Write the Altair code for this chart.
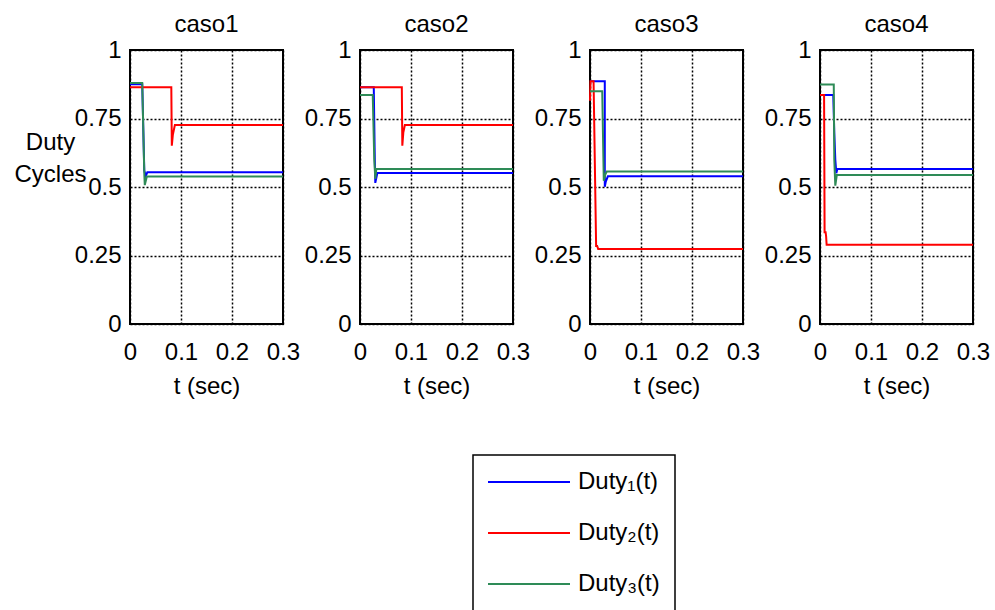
import altair as alt
import pandas as pd

FONT = "Liberation Sans"

cases = ["caso1", "caso2", "caso3", "caso4"]
series_names = ["Duty₁(t)", "Duty₂(t)", "Duty₃(t)"]
series_colors = ["#0000FF", "#FF0000", "#2E8B57"]

x_ticks = [0, 0.1, 0.2, 0.3]
y_ticks = [0, 0.25, 0.5, 0.75, 1]

# caso1
c1_d1_t = [0, 0.024, 0.028, 0.031, 0.034, 0.3]
c1_d1_v = [0.875, 0.875, 0.56, 0.54, 0.554, 0.554]
c1_d2_t = [0, 0.081, 0.082, 0.084, 0.085, 0.088, 0.3]
c1_d2_v = [0.864, 0.864, 0.651, 0.69, 0.70, 0.726, 0.726]
c1_d3_t = [0, 0.024, 0.028, 0.029, 0.033, 0.3]
c1_d3_v = [0.880, 0.880, 0.55, 0.507, 0.538, 0.538]

# caso2
c2_d1_t = [0, 0.027, 0.029, 0.030, 0.034, 0.3]
c2_d1_v = [0.864, 0.864, 0.60, 0.515, 0.551, 0.551]
c2_d2_t = [0, 0.082, 0.083, 0.085, 0.088, 0.3]
c2_d2_v = [0.864, 0.864, 0.651, 0.70, 0.726, 0.726]
c2_d3_t = [0, 0.025, 0.028, 0.030, 0.032, 0.3]
c2_d3_v = [0.836, 0.836, 0.60, 0.53, 0.566, 0.566]

# caso3
c3_d1_t = [0, 0.029, 0.029, 0.031, 0.035, 0.3]
c3_d1_v = [0.886, 0.886, 0.501, 0.52, 0.539, 0.539]
c3_d2_t = [0, 0.001, 0.007, 0.012, 0.014, 0.016, 0.3]
c3_d2_v = [0.815, 0.886, 0.886, 0.285, 0.285, 0.274, 0.274]
c3_d3_t = [0, 0.024, 0.027, 0.030, 0.033, 0.3]
c3_d3_v = [0.849, 0.849, 0.523, 0.545, 0.557, 0.557]

# caso4
c4_d1_t = [0, 0.026, 0.028, 0.030, 0.032, 0.034, 0.3]
c4_d1_v = [0.836, 0.836, 0.70, 0.60, 0.55, 0.566, 0.566]
c4_d2_t = [0, 0.008, 0.009, 0.011, 0.012, 0.013, 0.3]
c4_d2_v = [0.836, 0.836, 0.335, 0.335, 0.320, 0.289, 0.289]
c4_d3_t = [0, 0.027, 0.028, 0.030, 0.033, 0.3]
c4_d3_v = [0.874, 0.874, 0.60, 0.505, 0.544, 0.544]

case_data = {
    "caso1": [(c1_d1_t, c1_d1_v), (c1_d2_t, c1_d2_v), (c1_d3_t, c1_d3_v)],
    "caso2": [(c2_d1_t, c2_d1_v), (c2_d2_t, c2_d2_v), (c2_d3_t, c2_d3_v)],
    "caso3": [(c3_d1_t, c3_d1_v), (c3_d2_t, c3_d2_v), (c3_d3_t, c3_d3_v)],
    "caso4": [(c4_d1_t, c4_d1_v), (c4_d2_t, c4_d2_v), (c4_d3_t, c4_d3_v)],
}

rows = []
for case in cases:
    for name, (ts, vs) in zip(series_names, case_data[case]):
        for i, (t, v) in enumerate(zip(ts, vs)):
            rows.append({"case": case, "series": name, "t": t, "v": v, "i": i})
df = pd.DataFrame(rows)

legend = alt.Legend(
    orient="none", legendX=343, legendY=405, title=None, direction="vertical",
    labelFont=FONT, labelFontSize=24, labelColor="black",
    symbolType="M-8.2,0H8.2", symbolSize=100, symbolStrokeWidth=2,
    symbolOffset=29, labelOffset=37, rowPadding=27, padding=15,
    strokeColor="black", fillColor="white", cornerRadius=0,
)


def panel(case, first):
    if first:
        yax = alt.Axis(
            values=y_ticks, labelExpr="'' + datum.value", title=["Duty", "Cycles"], titleAngle=0,
            titleX=-80, titleY=99, titleAlign="center", titleBaseline="alphabetic",
            titleLineHeight=32,
        )
    else:
        yax = alt.Axis(values=y_ticks, labelExpr="'' + datum.value", title=None)
    xax = alt.Axis(values=x_ticks, labelExpr="'' + datum.value", title="t (sec)", labelFlush=False)
    return (
        alt.Chart(df[df["case"] == case])
        .mark_line(strokeWidth=2)
        .encode(
            x=alt.X("t:Q", scale=alt.Scale(domain=[0, 0.3], nice=False), axis=xax),
            y=alt.Y("v:Q", scale=alt.Scale(domain=[0, 1], nice=False), axis=yax),
            color=alt.Color("series:N", scale=alt.Scale(domain=series_names, range=series_colors), legend=legend),
            order=alt.Order("i:Q"),
        )
        .properties(
            width=153, height=274,
            title=alt.TitleParams(
                text=case, fontSize=24, fontWeight="normal", font=FONT, color="black",
                anchor="middle", frame="group", baseline="alphabetic", offset=-18,
            ),
        )
    )


chart = (
    alt.hconcat(*[panel(c, i == 0) for i, c in enumerate(cases)], spacing=77, bounds="flush")
    .resolve_scale(color="shared")
    .resolve_legend(color="shared")
    .properties(padding={"left": 12, "top": 12, "right": 0, "bottom": 0})
    .configure(font=FONT, background="white")
    .configure_view(stroke="black", strokeWidth=2)
    .configure_axis(
        labelFont=FONT, labelFontSize=24, labelColor="black",
        titleFont=FONT, titleFontSize=24, titleFontWeight="normal", titleColor="black",
        grid=True, gridColor="black", gridDash=[2, 2], gridWidth=1.5, gridOpacity=1,
        domain=False, ticks=False,
    )
    .configure_axisX(labelPadding=16, titlePadding=10)
    .configure_axisY(labelPadding=9)
    .configure_legend(strokeWidth=1.5)
)

chart.save("out.html", embed_options={"renderer": "svg", "actions": False})
